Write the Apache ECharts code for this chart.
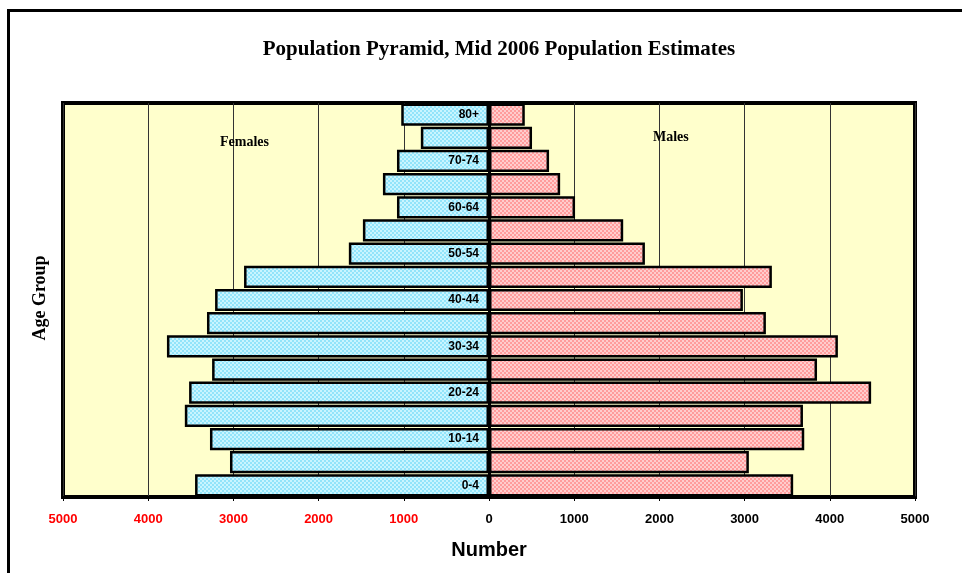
<!DOCTYPE html>
<html>
<head>
<meta charset="utf-8">
<script src="https://cdn.jsdelivr.net/npm/echarts@6/dist/echarts.min.js"></script>
<style>html,body{margin:0;padding:0;background:#fff;}#chart{width:962px;height:573px;}</style>
</head>
<body>
<div id="chart"></div>
<script>
const categories = ['0-4','5-9','10-14','15-19','20-24','25-29','30-34','35-39','40-44','45-49','50-54','55-59','60-64','65-69','70-74','75-79','80+'];
const females = [3450, 3040, 3275, 3570, 3520, 3250, 3780, 3310, 3215, 2875, 1645, 1480, 1080, 1245, 1080, 800, 1030];
const males = [3570, 3050, 3700, 3685, 4485, 3850, 4095, 3250, 2980, 3320, 1830, 1575, 1010, 835, 705, 505, 420];
const xTicks = { min: -5000, max: 5000, interval: 1000 };

function pattern(c1, c2) {
  const cv = document.createElement('canvas');
  cv.width = 4; cv.height = 4;
  const ctx = cv.getContext('2d');
  ctx.fillStyle = c1; ctx.fillRect(0, 0, 4, 4);
  ctx.fillStyle = c2; ctx.fillRect(0, 0, 2, 2); ctx.fillRect(2, 2, 2, 2);
  return cv;
}

const gridLeft = 63, gridRight = 47, W = 962;
const plotWidth = W - gridLeft - gridRight;

const chart = echarts.init(document.getElementById('chart'));
chart.setOption({
  animation: false,
  backgroundColor: '#fff',
  title: {
    text: 'Population Pyramid, Mid 2006 Population Estimates',
    left: 494, top: 34, textAlign: 'center',
    textStyle: { fontFamily: 'Liberation Serif', fontWeight: 'bold', fontSize: 21, color: '#000' }
  },
  grid: {
    left: gridLeft, right: gridRight, top: 103, bottom: 76,
    show: true, backgroundColor: '#ffffcc', borderColor: '#000', borderWidth: 4
  },
  graphic: [
    { type: 'rect', left: 6, top: 8, z: 100, silent: true,
      shape: { width: 1000, height: 700 }, style: { fill: null, stroke: '#000', lineWidth: 3 } },
    { type: 'text', left: 220, top: 135, z: 100,
      style: { text: 'Females', font: 'bold 14px "Liberation Serif"', fill: '#000' } },
    { type: 'text', left: 653, top: 130, z: 100,
      style: { text: 'Males', font: 'bold 14px "Liberation Serif"', fill: '#000' } },
    { type: 'text', x: 40, y: 298, rotation: Math.PI / 2, z: 100,
      style: { text: 'Age Group', font: 'bold 18px "Liberation Serif"', fill: '#000', align: 'center', verticalAlign: 'middle' } }
  ],
  xAxis: {
    type: 'value', min: xTicks.min, max: xTicks.max, interval: xTicks.interval,
    name: 'Number', nameLocation: 'middle', nameGap: 43,
    nameTextStyle: { fontFamily: 'Liberation Sans', fontWeight: 'bold', fontSize: 20, color: '#000' },
    axisLine: { show: true, lineStyle: { color: '#000', width: 3 } },
    axisTick: { show: true, length: 4, lineStyle: { color: '#000' } },
    axisLabel: {
      margin: 16, fontFamily: 'Liberation Sans', fontWeight: 'bold', fontSize: 13,
      formatter: v => String(Math.abs(v)),
      color: v => (Number(v) < 0 ? '#ff0000' : '#000')
    },
    splitLine: { show: true, lineStyle: { color: '#333', width: 1 } }
  },
  yAxis: {
    type: 'category', data: categories,
    offset: -plotWidth / 2,
    axisLine: { show: true, onZero: false, lineStyle: { color: '#000', width: 3 } },
    axisTick: { show: false },
    axisLabel: { interval: 1, margin: 10, fontFamily: 'Liberation Sans', fontWeight: 'bold', fontSize: 12, color: '#000' },
    splitLine: { show: false },
    z: 10
  },
  series: [
    {
      name: 'Females', type: 'bar', data: females.map(v => -v),
      barGap: '-100%', barCategoryGap: '4%',
      itemStyle: { color: { image: pattern('#c9f5ff', '#92e4fa'), repeat: 'repeat' }, borderColor: '#000', borderWidth: 2.5 }
    },
    {
      name: 'Males', type: 'bar', data: males,
      barGap: '-100%', barCategoryGap: '4%',
      itemStyle: { color: { image: pattern('#ffcdcd', '#ff9c9c'), repeat: 'repeat' }, borderColor: '#000', borderWidth: 2.5 }
    }
  ]
});
</script>
</body>
</html>
